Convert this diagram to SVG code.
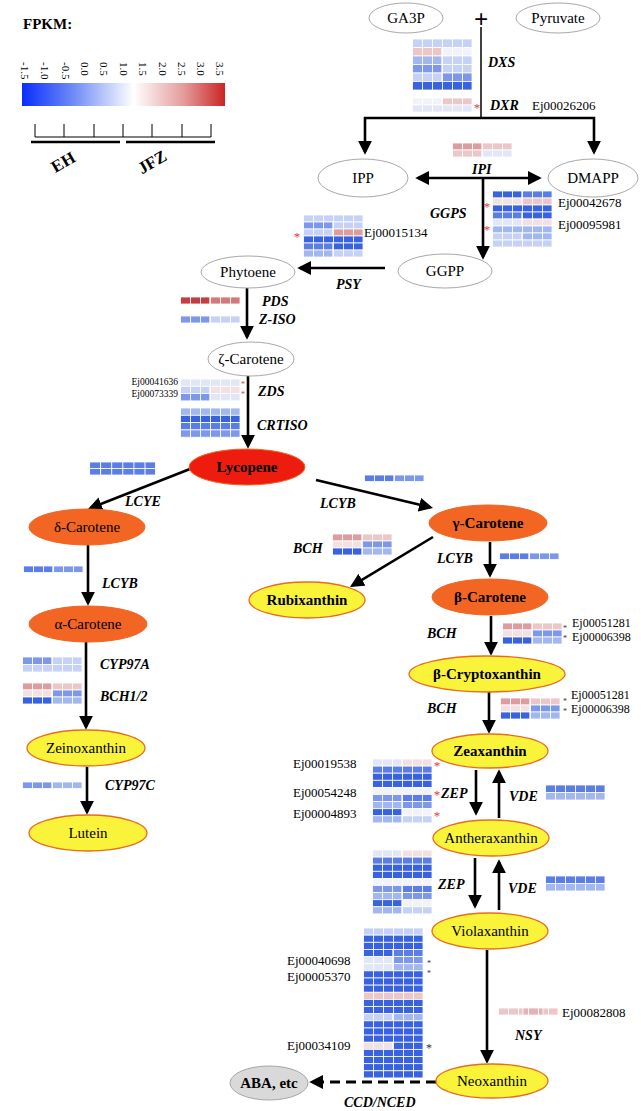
<svg xmlns="http://www.w3.org/2000/svg" width="641" height="1111" viewBox="0 0 641 1111" font-family="'Liberation Serif', 'Times New Roman', serif">
<defs>
<style>
text{font-family:"Liberation Serif","Times New Roman",serif;fill:#000}
.n{font-size:15px;text-anchor:middle}
.nb{font-size:15px;text-anchor:middle;font-weight:bold}
.e{font-size:14px;font-weight:bold;font-style:italic}
.id{font-size:13px}
.id2{font-size:12px}
.ids{font-size:9.5px;text-anchor:end}
.ar{font-size:13px;fill:#e8323c;text-anchor:middle}
.ars{font-size:8px;fill:#e8323c;text-anchor:middle}
.ak{font-size:12px;fill:#333;text-anchor:middle}
.aks{font-size:8px;fill:#333;text-anchor:middle}
.lt{font-size:11px}
.g0{fill:#fff;stroke:#a8a8a8;stroke-width:1}
.or{fill:#f26522;stroke:#f26522;stroke-width:1}
.ye{fill:#f9f43a;stroke:#ea6b1f;stroke-width:1.3}
.rd{fill:#ee1c0e;stroke:#f26522;stroke-width:1}
.gy{fill:#d9d9d9;stroke:#a6a6a6;stroke-width:1}
.a{fill:none;stroke:#000;stroke-width:2.6;marker-end:url(#ah)}
.b1,.b2,.b3,.b4,.b5,.b6,.w,.p1,.p2,.p3,.p4,.r{stroke:#fff;stroke-width:.8}
.b1{fill:#3862e2}.b2{fill:#5a7de6}.b3{fill:#7d98ea}.b4{fill:#a2b6ef}.b5{fill:#c6d2f5}.b6{fill:#e2e7f8}
.w{fill:#f2f3f9}.p1{fill:#f3e0e3}.p2{fill:#edc6c8}.p3{fill:#dd9d9f}.p4{fill:#d4797b}.r{fill:#c53d3e}
.gr{fill:url(#grid)}
</style>
<marker id="ah" viewBox="0 0 10 10" refX="8" refY="5" markerWidth="14" markerHeight="14" markerUnits="userSpaceOnUse" orient="auto-start-reverse"><path d="M0,0 L10,5 L0,10 z" fill="#000"/></marker>
<pattern id="grid" width="10" height="200" patternUnits="userSpaceOnUse"><rect width="0.9" height="200" fill="#fff"/></pattern>
<linearGradient id="lg" x1="0" y1="0" x2="1" y2="0">
<stop offset="0" stop-color="#0a2dff"/><stop offset="0.25" stop-color="#6d8af5"/><stop offset="0.55" stop-color="#ffffff"/><stop offset="0.8" stop-color="#e39a9a"/><stop offset="1" stop-color="#cc2424"/>
</linearGradient>
<g id="hmBCH">
<rect class="p3" x="0" y="0" width="30" height="7"/><rect class="p2" x="30" y="0" width="30" height="7"/>
<rect class="p1" x="0" y="7" width="30" height="7"/><rect class="b3" x="30" y="7" width="30" height="7"/>
<rect class="b1" x="0" y="14" width="30" height="7"/><rect class="b4" x="30" y="14" width="30" height="7"/>
<rect class="gr" width="60" height="21"/>
</g>
<g id="hmZEP">
<rect class="b6" x="0" y="0" width="30" height="7.1"/><rect class="p1" x="30" y="0" width="30" height="7.1"/>
<rect class="b2" x="0" y="7.1" width="60" height="7.1"/>
<rect class="b1" x="0" y="14.2" width="60" height="7.1"/>
<rect class="b1" x="0" y="21.3" width="60" height="7.1"/>
<rect class="w" x="0" y="28.4" width="60" height="7.1"/>
<rect class="b3" x="0" y="35.5" width="30" height="7.1"/><rect class="b2" x="30" y="35.5" width="30" height="7.1"/>
<rect class="b4" x="0" y="42.6" width="30" height="7.1"/><rect class="b3" x="30" y="42.6" width="30" height="7.1"/>
<rect class="b1" x="0" y="49.7" width="30" height="7.1"/><rect class="w" x="30" y="49.7" width="30" height="7.1"/>
<rect class="b4" x="0" y="56.8" width="30" height="7.1"/><rect class="b5" x="30" y="56.8" width="30" height="7.1"/>
<rect class="gr" width="60" height="63.9"/>
</g>
<g id="hmVDE">
<rect class="b2" x="0" y="0" width="60" height="7.5"/>
<rect class="b4" x="0" y="7.5" width="60" height="7.5"/>
<rect class="gr" width="60" height="15"/>
</g>
<g id="hmLCYB">
<rect class="b2" x="0" y="0" width="30" height="6.5"/><rect class="b3" x="30" y="0" width="30" height="6.5"/>
<rect class="gr" width="60" height="6.5"/>
</g>
</defs>

<rect width="641" height="1111" fill="#fff"/>

<!-- Legend -->
<g id="legend">
<text x="23" y="29" style="font-size:15px;font-weight:bold">FPKM:</text>
<text class="lt" transform="translate(21,62) rotate(90)">-1.5</text>
<text class="lt" transform="translate(41,62) rotate(90)">-1.0</text>
<text class="lt" transform="translate(62,62) rotate(90)">-0.5</text>
<text class="lt" transform="translate(81,62) rotate(90)">0.0</text>
<text class="lt" transform="translate(100,62) rotate(90)">0.5</text>
<text class="lt" transform="translate(120,62) rotate(90)">1.0</text>
<text class="lt" transform="translate(139,62) rotate(90)">1.5</text>
<text class="lt" transform="translate(159,62) rotate(90)">2.0</text>
<text class="lt" transform="translate(178,62) rotate(90)">2.5</text>
<text class="lt" transform="translate(197,62) rotate(90)">3.0</text>
<text class="lt" transform="translate(216,62) rotate(90)">3.5</text>
<rect x="22" y="83" width="203" height="23" fill="url(#lg)"/>
<path d="M35,124 V137 M64,124 V137 M94,124 V137 M123,124 V137 M152,124 V137 M182,124 V137 M211,124 V137 M35,137 H211" stroke="#000" stroke-width="1" fill="none"/>
<path d="M31,142 H120 M126,142 H215" stroke="#000" stroke-width="2.5" fill="none"/>
<text transform="translate(66,167) rotate(-30)" style="font-size:17px;font-weight:bold;text-anchor:middle">EH</text>
<text transform="translate(155,167) rotate(-30)" style="font-size:17px;font-weight:bold;text-anchor:middle">JFZ</text>
</g>

<!-- Connectors -->
<g id="connectors">
<line x1="481" y1="27" x2="481" y2="118" stroke="#000" stroke-width="1.5"/>
<path class="a" d="M481,118 H365 V152"/>
<path class="a" d="M481,118 H594 V152"/>
<path class="a" style="marker-start:url(#ah)" d="M418,178 H539"/>
<path class="a" d="M483,178 V257"/>
<path class="a" d="M385,268 H300"/>
<path class="a" d="M247,288 V337"/>
<path class="a" d="M248,376 V446"/>
<path class="a" d="M190,469 L90.6,508"/>
<path class="a" d="M316,480 L430.3,507.3"/>
<path class="a" d="M433,537 L352.4,585.6"/>
<path class="a" d="M490,542 V575"/>
<path class="a" d="M88,545 V603"/>
<path class="a" d="M86,642 V727"/>
<path class="a" d="M87,767 V812"/>
<path class="a" d="M491,616 V653"/>
<path class="a" d="M489,692 V731"/>
<path class="a" d="M476,770 V813"/>
<path class="a" d="M499,818 V772"/>
<path class="a" d="M475,858 V906"/>
<path class="a" d="M499,910 V862"/>
<path class="a" d="M487,950 V1061"/>
<path class="a" style="stroke-dasharray:10 6;stroke-width:3" d="M436,1082 H312"/>
<text x="481" y="28" style="font-size:25px;font-weight:bold;text-anchor:middle">+</text>
</g>

<!-- Nodes -->
<g id="node-ga3p"><ellipse class="g0" cx="406" cy="18" rx="37" ry="15"/><text class="n" x="406" y="23">GA3P</text></g>
<g id="node-pyruvate"><ellipse class="g0" cx="558" cy="18" rx="42" ry="15"/><text class="n" x="558" y="23">Pyruvate</text></g>
<g id="node-ipp"><ellipse class="g0" cx="363" cy="178" rx="45" ry="19"/><text class="n" x="363" y="183">IPP</text></g>
<g id="node-dmapp"><ellipse class="g0" cx="593" cy="178" rx="45" ry="19"/><text class="n" x="593" y="183">DMAPP</text></g>
<g id="node-ggpp"><ellipse class="g0" cx="445" cy="271" rx="47" ry="17"/><text class="n" x="445" y="276">GGPP</text></g>
<g id="node-phytoene"><ellipse class="g0" cx="248" cy="272" rx="47" ry="16"/><text class="n" x="248" y="277">Phytoene</text></g>
<g id="node-zeta"><ellipse class="g0" cx="251" cy="359" rx="43" ry="17"/><text class="n" x="251" y="364">ζ-Carotene</text></g>
<g id="node-lycopene"><ellipse class="rd" cx="247" cy="467" rx="58" ry="18"/><text class="nb" x="247" y="472">Lycopene</text></g>
<g id="node-delta"><ellipse class="or" cx="87" cy="527" rx="58" ry="18"/><text class="n" x="87" y="532">δ-Carotene</text></g>
<g id="node-alpha"><ellipse class="or" cx="88" cy="624" rx="59" ry="18"/><text class="n" x="88" y="629">α-Carotene</text></g>
<g id="node-zeinoxanthin"><ellipse class="ye" cx="86" cy="748" rx="59" ry="18"/><text class="n" x="86" y="753">Zeinoxanthin</text></g>
<g id="node-lutein"><ellipse class="ye" cx="88" cy="833" rx="59" ry="18"/><text class="n" x="88" y="838">Lutein</text></g>
<g id="node-gamma"><ellipse class="or" cx="488" cy="523" rx="59" ry="18"/><text class="nb" x="488" y="528">γ-Carotene</text></g>
<g id="node-rubixanthin"><ellipse class="ye" cx="307" cy="600" rx="58" ry="18"/><text class="nb" x="307" y="605">Rubixanthin</text></g>
<g id="node-beta"><ellipse class="or" cx="490" cy="597" rx="58" ry="18"/><text class="nb" x="490" y="602">β-Carotene</text></g>
<g id="node-bcrypto"><ellipse class="ye" cx="487" cy="674" rx="78" ry="18"/><text class="nb" x="487" y="679">β-Cryptoxanthin</text></g>
<g id="node-zeaxanthin"><ellipse class="ye" cx="490" cy="751" rx="58" ry="17"/><text class="nb" x="490" y="756">Zeaxanthin</text></g>
<g id="node-antheraxanthin"><ellipse class="ye" cx="491" cy="838" rx="58" ry="18"/><text class="n" x="491" y="843">Antheraxanthin</text></g>
<g id="node-violaxanthin"><ellipse class="ye" cx="490" cy="931" rx="58" ry="18"/><text class="n" x="490" y="936">Violaxanthin</text></g>
<g id="node-neoxanthin"><ellipse class="ye" cx="492" cy="1081" rx="56" ry="17"/><text class="n" x="492" y="1086">Neoxanthin</text></g>
<g id="node-aba"><ellipse class="gy" cx="269" cy="1083" rx="39" ry="17"/><text class="nb" x="269" y="1088">ABA, etc</text></g>

<!-- Heatmaps -->
<g id="heatmaps">
<g id="hm-dxs" transform="translate(412,39)">
<rect class="b5" x="0" y="0" width="60" height="8.5"/>
<rect class="p2" x="0" y="8.5" width="30" height="8.5"/><rect class="w" x="30" y="8.5" width="30" height="8.5"/>
<rect class="b4" x="0" y="17" width="30" height="8.5"/><rect class="b5" x="30" y="17" width="30" height="8.5"/>
<rect class="b3" x="0" y="25.5" width="30" height="8.5"/><rect class="b5" x="30" y="25.5" width="30" height="8.5"/>
<rect class="b5" x="0" y="34" width="30" height="8.5"/><rect class="b3" x="30" y="34" width="30" height="8.5"/>
<rect class="b1" x="0" y="42.5" width="60" height="8.5"/>
<rect class="gr" width="60" height="51"/>
</g>
<g id="hm-dxr" transform="translate(412,98)">
<rect class="w" x="0" y="0" width="30" height="7"/><rect class="p2" x="30" y="0" width="30" height="7"/>
<rect class="b6" x="0" y="7" width="60" height="7"/>
<rect class="gr" width="60" height="14"/>
</g>
<g id="hm-ipi" transform="translate(452,143)">
<rect class="p3" x="0" y="0" width="30" height="7"/><rect class="p2" x="30" y="0" width="30" height="7"/>
<rect class="p2" x="0" y="7" width="30" height="7"/><rect class="b6" x="30" y="7" width="30" height="7"/>
<rect class="gr" width="60" height="14"/>
</g>
<g id="hm-ggps" transform="translate(492,191)">
<rect class="b1" x="0" y="0" width="30" height="7"/><rect class="b2" x="30" y="0" width="30" height="7"/>
<rect class="p1" x="0" y="7" width="30" height="7"/><rect class="p2" x="30" y="7" width="30" height="7"/>
<rect class="b1" x="0" y="14" width="60" height="7"/>
<rect class="b2" x="0" y="21" width="30" height="7"/><rect class="b1" x="30" y="21" width="30" height="7"/>
<rect class="b6" x="0" y="28" width="30" height="7"/><rect class="p1" x="30" y="28" width="30" height="7"/>
<rect class="b4" x="0" y="35" width="60" height="7"/>
<rect class="b5" x="0" y="42" width="30" height="7"/><rect class="b4" x="30" y="42" width="30" height="7"/>
<rect class="b5" x="0" y="49" width="60" height="7"/>
<rect class="gr" width="60" height="56"/>
</g>
<g id="hm-psy" transform="translate(303,215)">
<rect class="b5" x="0" y="0" width="60" height="7"/>
<rect class="b3" x="0" y="7" width="30" height="7"/><rect class="b5" x="30" y="7" width="30" height="7"/>
<rect class="b5" x="0" y="14" width="30" height="7"/><rect class="p3" x="30" y="14" width="30" height="7"/>
<rect class="b1" x="0" y="21" width="60" height="7"/>
<rect class="b2" x="0" y="28" width="30" height="7"/><rect class="b1" x="30" y="28" width="30" height="7"/>
<rect class="b4" x="0" y="35" width="30" height="7"/><rect class="b5" x="30" y="35" width="30" height="7"/>
<rect class="gr" width="60" height="42"/>
</g>
<g id="hm-pds" transform="translate(180,297)">
<rect class="r" x="0" y="0" width="30" height="7"/><rect class="p4" x="30" y="0" width="30" height="7"/>
<rect class="gr" width="60" height="7"/>
</g>
<g id="hm-ziso" transform="translate(180,316)">
<rect class="b3" x="0" y="0" width="30" height="7"/><rect class="b5" x="30" y="0" width="30" height="7"/>
<rect class="gr" width="60" height="7"/>
</g>
<g id="hm-zds" transform="translate(180,379)">
<rect class="b6" x="0" y="0" width="60" height="7.3"/>
<rect class="b5" x="0" y="7.3" width="30" height="7.3"/><rect class="p1" x="30" y="7.3" width="30" height="7.3"/>
<rect class="b3" x="0" y="14.6" width="30" height="7.3"/><rect class="b6" x="30" y="14.6" width="30" height="7.3"/>
<rect class="gr" width="60" height="21.9"/>
</g>
<g id="hm-crtiso" transform="translate(180,408)">
<rect class="b4" x="0" y="0" width="60" height="7.3"/>
<rect class="b1" x="0" y="7.3" width="60" height="7.3"/>
<rect class="b2" x="0" y="14.6" width="60" height="7.3"/>
<rect class="b3" x="0" y="21.9" width="60" height="7.3"/>
<rect class="gr" width="60" height="29.2"/>
</g>
<g id="hm-lcye" transform="translate(89,462) scale(1.11,1)">
<rect class="b2" x="0" y="0" width="60" height="6.5"/>
<rect class="b2" x="0" y="6.5" width="60" height="6.5"/>
<rect class="gr" width="60" height="13"/>
</g>
<use id="hm-lcyb-left" href="#hmLCYB" x="23" y="566"/>
<use id="hm-lcyb-right1" href="#hmLCYB" x="364" y="475"/>
<use id="hm-lcyb-right2" href="#hmLCYB" x="499" y="553"/>
<g id="hm-cyp97a" transform="translate(22,657)">
<rect class="b3" x="0" y="0" width="30" height="7.5"/><rect class="b5" x="30" y="0" width="30" height="7.5"/>
<rect class="b5" x="0" y="7.5" width="60" height="7.5"/>
<rect class="gr" width="60" height="15"/>
</g>
<use id="hm-bch12" href="#hmBCH" x="22" y="683"/>
<g id="hm-cyp97c" transform="translate(22,782)">
<rect class="b3" x="0" y="0" width="30" height="6.5"/><rect class="b4" x="30" y="0" width="30" height="6.5"/>
<rect class="gr" width="60" height="6.5"/>
</g>
<use id="hm-bch-gamma" href="#hmBCH" x="332" y="534"/>
<use id="hm-bch-beta" href="#hmBCH" x="502" y="623"/>
<use id="hm-bch-crypto" href="#hmBCH" x="500" y="698"/>
<use id="hm-zep1" href="#hmZEP" x="372" y="759"/>
<use id="hm-zep2" href="#hmZEP" x="372" y="850"/>
<use id="hm-vde1" href="#hmVDE" x="545" y="785"/>
<use id="hm-vde2" href="#hmVDE" x="545" y="876"/>
<g id="hm-nsy" transform="translate(498,1008)">
<rect class="p2" x="0" y="0" width="60" height="7"/>
<rect x="25" y="0" width="20" height="7" fill="#e6b2b6" stroke="#fff" stroke-width=".8"/>
<rect class="gr" width="60" height="7"/>
</g>
<g id="hm-ccd" transform="translate(363,928)">
<rect class="b5" x="0" y="0" width="60" height="7.14"/>
<rect class="b1" x="0" y="7.14" width="60" height="7.14"/>
<rect class="b1" x="0" y="14.28" width="60" height="7.14"/>
<rect class="b1" x="0" y="21.42" width="30" height="7.14"/><rect class="b2" x="30" y="21.42" width="30" height="7.14"/>
<rect class="b6" x="0" y="28.56" width="30" height="7.14"/><rect class="b3" x="30" y="28.56" width="30" height="7.14"/>
<rect class="b6" x="0" y="35.7" width="30" height="7.14"/><rect class="b4" x="30" y="35.7" width="30" height="7.14"/>
<rect class="b1" x="0" y="42.84" width="60" height="7.14"/>
<rect class="b1" x="0" y="49.98" width="60" height="7.14"/>
<rect class="b1" x="0" y="57.12" width="60" height="7.14"/>
<rect class="p2" x="0" y="64.26" width="60" height="7.14"/>
<rect class="b1" x="0" y="71.4" width="60" height="7.14"/>
<rect class="b1" x="0" y="78.54" width="60" height="7.14"/>
<rect class="b5" x="0" y="85.68" width="30" height="7.14"/><rect class="b4" x="30" y="85.68" width="30" height="7.14"/>
<rect class="b1" x="0" y="92.82" width="60" height="7.14"/>
<rect class="b1" x="0" y="99.96" width="60" height="7.14"/>
<rect class="b1" x="0" y="107.1" width="60" height="7.14"/>
<rect class="p1" x="0" y="114.24" width="30" height="7.14"/><rect class="b1" x="30" y="114.24" width="30" height="7.14"/>
<rect class="b1" x="0" y="121.38" width="60" height="7.14"/>
<rect class="b1" x="0" y="128.52" width="60" height="7.14"/>
<rect class="b1" x="0" y="135.66" width="60" height="7.14"/>
<rect class="b1" x="0" y="142.8" width="60" height="7.14"/>
<rect class="gr" width="60" height="149.94"/>
</g>
</g>

<!-- Enzyme labels -->
<g id="enzymes">
<text class="e" x="488" y="67">DXS</text>
<text class="e" x="490" y="110">DXR</text>
<text class="e" x="472" y="174">IPI</text>
<text class="e" x="430" y="218">GGPS</text>
<text class="e" x="336" y="289">PSY</text>
<text class="e" x="262" y="306">PDS</text>
<text class="e" x="259" y="324">Z-ISO</text>
<text class="e" x="258" y="396">ZDS</text>
<text class="e" x="257" y="430">CRTISO</text>
<text class="e" x="125" y="506">LCYE</text>
<text class="e" x="102" y="588">LCYB</text>
<text class="e" x="100" y="669">CYP97A</text>
<text class="e" x="100" y="701">BCH1/2</text>
<text class="e" x="105" y="790">CYP97C</text>
<text class="e" x="320" y="508">LCYB</text>
<text class="e" x="293" y="553">BCH</text>
<text class="e" x="437" y="563">LCYB</text>
<text class="e" x="427" y="638">BCH</text>
<text class="e" x="427" y="713">BCH</text>
<text class="e" x="441" y="798">ZEP</text>
<text class="e" x="509" y="801">VDE</text>
<text class="e" x="438" y="889">ZEP</text>
<text class="e" x="508" y="893">VDE</text>
<text class="e" x="515" y="1040">NSY</text>
<text class="e" x="344" y="1107">CCD/NCED</text>
</g>

<!-- Gene IDs and asterisks -->
<g id="gene-ids">
<text class="id" x="532" y="110">Ej00026206</text>
<text class="id" x="558" y="207">Ej00042678</text>
<text class="id" x="558" y="229">Ej00095981</text>
<text class="id" x="364" y="237">Ej00015134</text>
<text class="ids" x="178" y="385">Ej00041636</text>
<text class="ids" x="178" y="397">Ej00073339</text>
<text class="id2" x="572" y="627">Ej00051281</text>
<text class="id2" x="572" y="641">Ej00006398</text>
<text class="id2" x="571" y="699">Ej00051281</text>
<text class="id2" x="571" y="713">Ej00006398</text>
<text class="id" x="293" y="768">Ej00019538</text>
<text class="id" x="293" y="797">Ej00054248</text>
<text class="id" x="293" y="818">Ej00004893</text>
<text class="id" x="287" y="965">Ej00040698</text>
<text class="id" x="287" y="981">Ej00005370</text>
<text class="id" x="287" y="1050">Ej00034109</text>
<text class="id" x="562" y="1017">Ej00082808</text>
</g>
<g id="asterisks">
<text class="ar" x="477" y="111.5">*</text>
<text class="ar" x="487" y="210.5">*</text>
<text class="ar" x="487" y="233.5">*</text>
<text class="ar" x="297" y="240.5">*</text>
<text class="ars" x="243" y="387">*</text>
<text class="ars" x="243" y="396.5">*</text>
<text class="ar" x="437" y="769.5">*</text>
<text class="ar" x="437" y="798.5">*</text>
<text class="ar" x="437" y="819.5">*</text>
<text class="aks" x="565" y="631">*</text>
<text class="aks" x="565" y="640.5">*</text>
<text class="aks" x="565" y="704">*</text>
<text class="aks" x="565" y="713.5">*</text>
<text class="aks" x="429" y="966">*</text>
<text class="aks" x="429" y="975.5">*</text>
<text class="ak" x="429" y="1051.5">*</text>
</g>
</svg>
